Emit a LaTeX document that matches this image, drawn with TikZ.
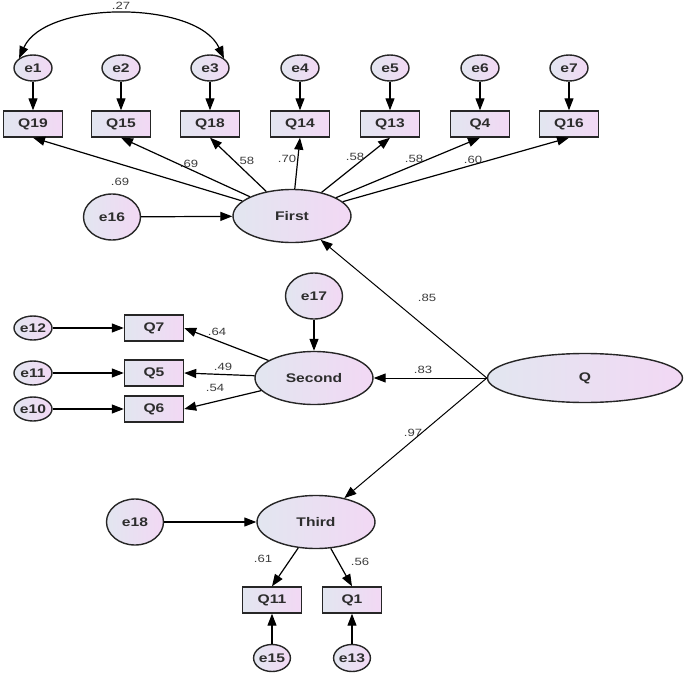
\documentclass[tikz,border=0pt]{standalone}
\usepackage{fontspec}
\usepackage{tikz}
\usetikzlibrary{arrows.meta,shapes.geometric}
\newfontfamily\amosfont[FakeStretch=1.25]{Liberation Sans}
\definecolor{AmosBlue}{RGB}{226,230,240}
\definecolor{AmosPink}{RGB}{242,216,244}
\definecolor{CoefGray}{RGB}{60,60,60}
\definecolor{NameGray}{RGB}{45,45,45}
\tikzset{
  shaded/.style={draw=black!85,line width=1.4pt,left color=AmosBlue,
    right color=AmosPink,inner sep=0pt,text=NameGray,
    font=\amosfont\bfseries\fontsize{12.5}{14}\selectfont},
  errsmall/.style={shaded,ellipse,minimum width=38pt,minimum height=26pt},
  errbig/.style={shaded,ellipse,minimum width=57pt,minimum height=46pt},
  obsbox/.style={shaded,rectangle,minimum width=59pt,minimum height=26pt},
  latent/.style={shaded,ellipse,minimum width=118pt,minimum height=53pt},
  regpath/.style={-{Triangle[length=12pt,width=9pt]},line width=1.2pt},
  coef/.style={font=\amosfont\fontsize{10.5}{12}\selectfont,text=CoefGray,
    inner sep=0pt}
}
\begin{document}
\begin{tikzpicture}[x=1pt,y=-1pt]
\useasboundingbox (0,0) rectangle (685,674);

% First factor
\foreach \e/\q/\x in {1/19/33,2/15/121,3/18/210,4/14/300,5/13/390,6/4/480,7/16/569}{
  \node[errsmall] (e\e) at (\x,68) {e\e};
  \node[obsbox] (Q\q) at (\x,124) {Q\q};
  \draw[regpath] (e\e) -- (Q\q);
}
\node[latent] (First) at (292,216) {First};
\node[errbig] (e16) at (112,217) {e16};
\draw[regpath] (e16) -- (First);
\foreach \q in {19,15,18,14,13,4,16}
  \draw[regpath] (First) -- (Q\q.south);
\draw[{Triangle[length=12pt,width=9pt]}-{Triangle[length=12pt,width=9pt]},line width=1.2pt]
  (e1.north west) .. controls (45,0) and (197,0) .. (e3.north east);
\node[coef] (c27) at (121,6) {.27};
\node[coef] (c19) at (120,182) {.69};
\node[coef] (c15) at (189,164) {.69};
\node[coef] (c18) at (245,161) {.58};
\node[coef] (c14) at (287,159) {.70};
\node[coef] (c13) at (355,157) {.58};
\node[coef] (c4) at (414,159) {.58};
\node[coef] (c16) at (473,160) {.60};

% Second factor
\node[latent] (Second) at (314,378) {Second};
\node[errbig] (e17) at (314,296) {e17};
\draw[regpath] (e17) -- (Second);
\foreach \e/\q/\y in {12/7/328,11/5/373,10/6/409}{
  \node[errsmall,minimum height=24pt] (e\e) at (33,\y) {e\e};
  \node[obsbox] (Q\q) at (154,\y) {Q\q};
  \draw[regpath] (e\e) -- (Q\q);
  \draw[regpath] (Second) -- (Q\q.east);
}
\node[coef] (c7) at (217,332) {.64};
\node[coef] (c5) at (223,367) {.49};
\node[coef] (c6) at (215,388) {.54};

% Second-order factor
\node[shaded,ellipse,minimum width=195pt,minimum height=49pt] (Q) at (585,378) {Q};
\draw[regpath,line width=1pt] (Q.west) -- (First);
\draw[regpath,line width=1pt] (Q.west) -- (Second);
\node[coef] (c85) at (427,298) {.85};
\node[coef] (c83) at (423,370) {.83};
\node[coef] (c97) at (413,433) {.97};

% Third factor
\node[latent] (Third) at (316,522) {Third};
\draw[regpath,line width=1pt] (Q.west) -- (Third);
\node[errbig] (e18) at (135,522) {e18};
\draw[regpath] (e18) -- (Third);
\node[obsbox] (Q11) at (272,600) {Q11};
\node[obsbox] (Q1) at (352,600) {Q1};
\node[errsmall,minimum width=35pt,minimum height=27pt] (e15) at (272,658) {e15};
\node[errsmall,minimum width=35pt,minimum height=27pt] (e13) at (352,658) {e13};
\draw[regpath] (Third) -- (Q11.north);
\draw[regpath] (Third) -- (Q1.north);
\draw[regpath] (e15) -- (Q11);
\draw[regpath] (e13) -- (Q1);
\node[coef] (c11) at (263,559) {.61};
\node[coef] (c1) at (360,562) {.56};

\end{tikzpicture}
\end{document}
